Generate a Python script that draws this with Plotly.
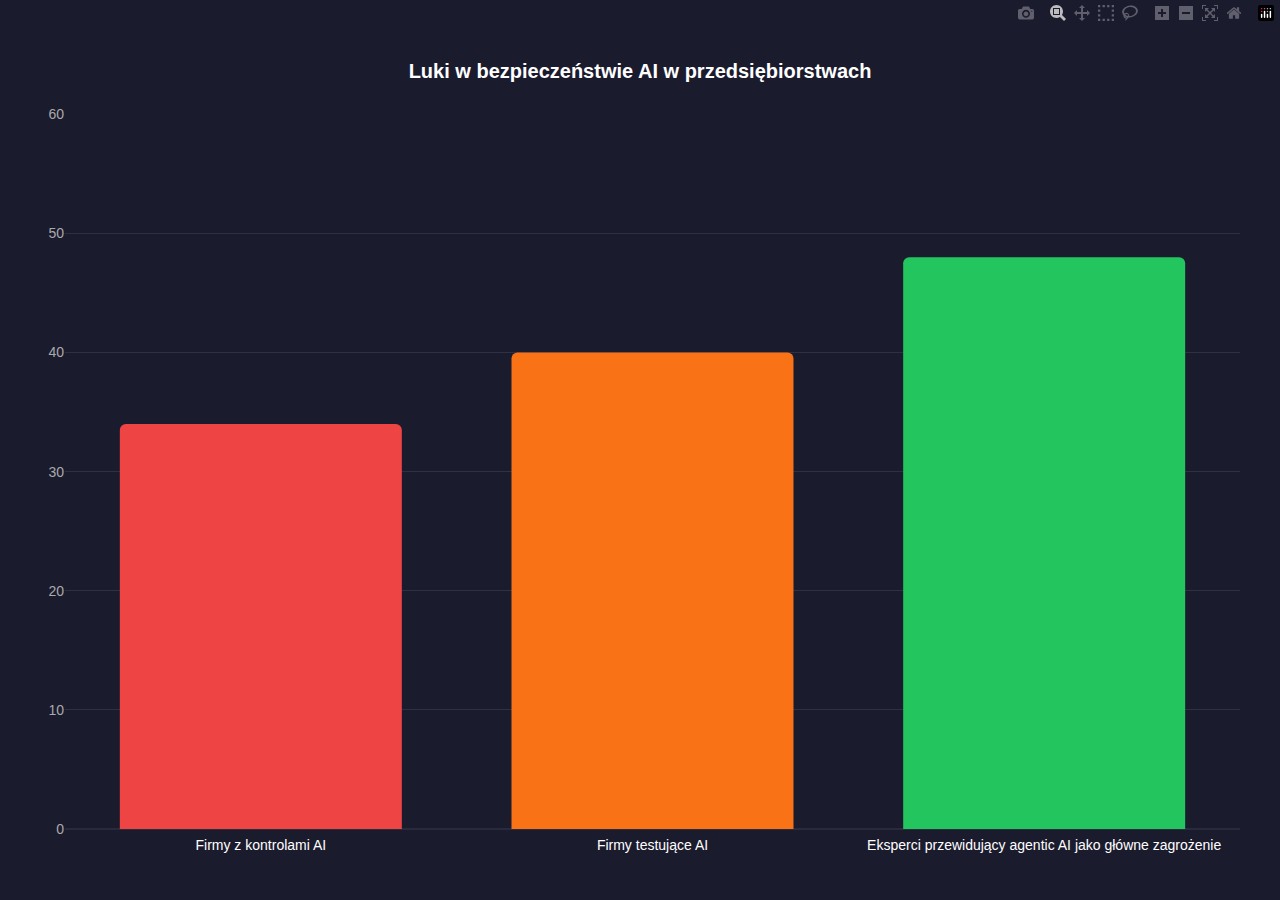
import plotly.graph_objects as go

categories = ["Firmy z kontrolami AI", "Firmy testujące AI",
              "Eksperci przewidujący agentic AI jako główne zagrożenie"]
values = [34, 40, 48]
colors = ["#ef4444", "#f97316", "#22c55e"]

fig = go.Figure(go.Bar(x=categories, y=values, marker_color=colors,
                       marker_line_width=0, width=0.72))

fig.update_layout(
    width=1280, height=900,
    paper_bgcolor="#1b1b2e", plot_bgcolor="#1b1b2e",
    font=dict(family="Liberation Sans, Arial, sans-serif", color="#ffffff", size=14),
    title=dict(text="<b>Luki w bezpieczeństwie AI w przedsiębiorstwach</b>",
               x=0.5, xanchor="center", y=0.921, yanchor="middle",
               font=dict(size=20, color="#ffffff")),
    margin=dict(l=65, r=40, t=114, b=71),
    barcornerradius=6,
    showlegend=False,
    xaxis=dict(showgrid=False, tickfont=dict(color="#ffffff", size=14), ticks="",
               showline=False, ticklabelstandoff=6),
    yaxis=dict(range=[0, 60.02], tickvals=[0, 10, 20, 30, 40, 50, 60],
               gridcolor="#2f2f45", zeroline=True,
               zerolinecolor="#2a2a3e", tickfont=dict(color="#aaaaaa", size=14),
               ticks=""),
)

fig.write_html("out.html")

# drop the default body margin so the chart fills the window
with open("out.html", encoding="utf-8") as f:
    html = f.read()
html = html.replace("<body>", '<body style="margin:0;background:#1b1b2e">', 1)
with open("out.html", "w", encoding="utf-8") as f:
    f.write(html)
